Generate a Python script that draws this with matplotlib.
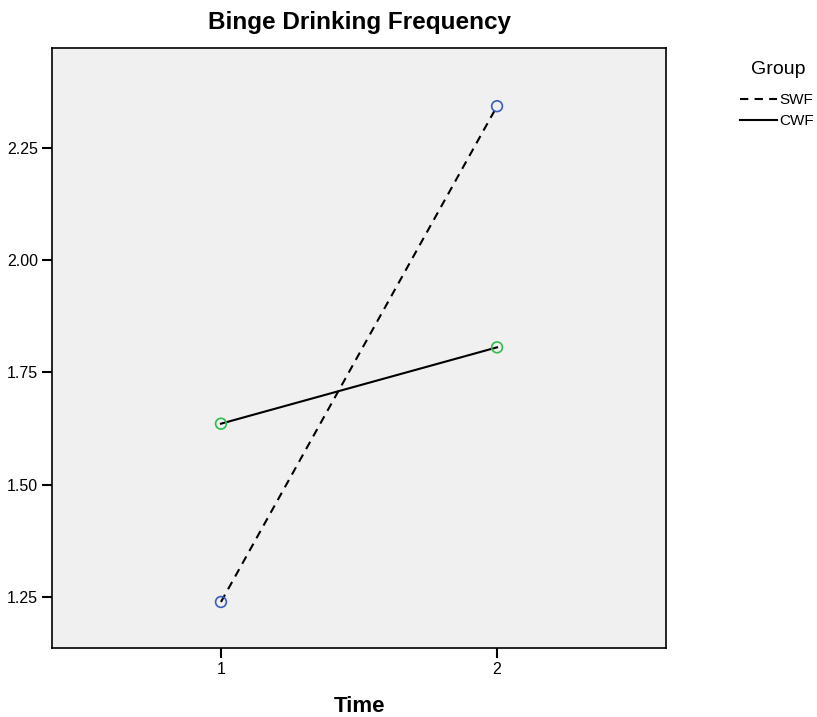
import matplotlib.pyplot as plt

plt.rcParams['font.family'] = ['Liberation Sans', 'DejaVu Sans']

time_points = [1, 2]
swf_means = [1.239, 2.343]
cwf_means = [1.636, 1.806]
y_ticks = [1.25, 1.50, 1.75, 2.00, 2.25]

fig = plt.figure(figsize=(8.17, 7.17), dpi=100)
ax = fig.add_axes([52 / 817, 69 / 717, 614 / 817, 600 / 717])
ax.set_facecolor('#f0f0f0')

ax.plot(time_points, swf_means, color='black', linestyle=(0, (4, 3)), linewidth=1.5,
        label='SWF', zorder=2)
ax.plot(time_points, cwf_means, color='black', linestyle='-', linewidth=1.5,
        label='CWF', zorder=2)
ax.scatter(time_points, swf_means, s=60, facecolors='none', edgecolors='#3b5cc4',
           linewidths=1.2, zorder=3)
ax.scatter(time_points, cwf_means, s=60, facecolors='none', edgecolors='#2ebd4e',
           linewidths=1.2, zorder=3)

ax.set_xlim(0.388, 2.612)
ax.set_ylim(1.1365, 2.4726)
ax.set_xticks(time_points)
ax.set_xticklabels(['1', '2'])
ax.set_yticks(y_ticks)
ax.set_yticklabels([f'{v:.2f}' for v in y_ticks])
ax.tick_params(direction='out', length=7, width=1.5, labelsize=11.5, pad=3)
for sp in ax.spines.values():
    sp.set_linewidth(1.2)

ax.set_xlabel('Time', fontsize=16, fontweight='bold', labelpad=14)
ax.set_title('Binge Drinking Frequency', fontsize=17.5, fontweight='bold', pad=14)

# legend title placed by hand, entries below it
fig.text(778 / 817, 1 - 70 / 717, 'Group', fontsize=14, ha='center', va='center')
leg = fig.legend(loc='upper right', bbox_to_anchor=(814 / 817, 1 - 93 / 717),
                 borderaxespad=0, borderpad=0, frameon=False, fontsize=11,
                 handlelength=2.4, handletextpad=0.15, labelspacing=0.45)

fig.savefig('out.png', dpi=100)
